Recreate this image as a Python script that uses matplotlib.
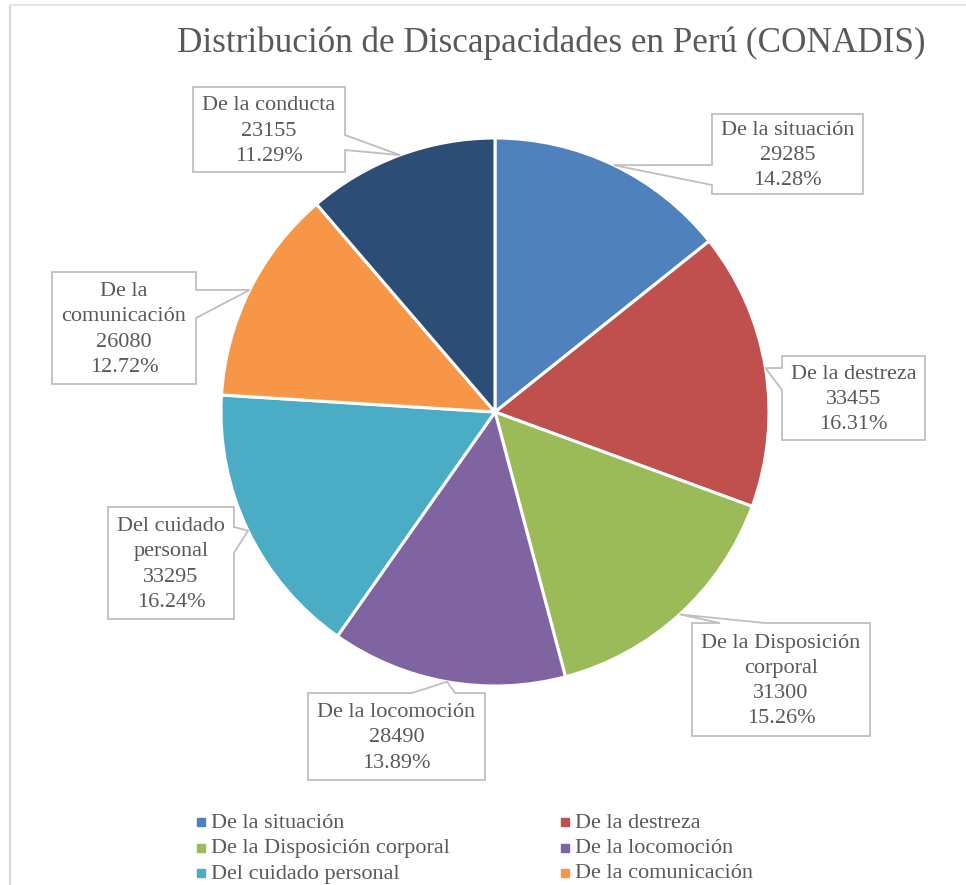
import numpy as np
import matplotlib
matplotlib.use("Agg")
import matplotlib.pyplot as plt
from matplotlib.patches import Polygon

# ---------------- data ----------------
categories = ["De la situación", "De la destreza", "De la Disposición corporal",
              "De la locomoción", "Del cuidado personal", "De la comunicación",
              "De la conducta"]
label_names = ["De la situación", "De la destreza", "De la Disposición\ncorporal",
               "De la locomoción", "Del cuidado\npersonal", "De la\ncomunicación",
               "De la conducta"]
values = [29285, 33455, 31300, 28490, 33295, 26080, 23155]
colors = ["#4F81BD", "#C0504D", "#9BBB59", "#8064A2", "#4BACC6", "#F79646", "#2C4D75"]
title = "Distribución de Discapacidades en Perú (CONADIS)"

# ---------------- layout ----------------
W, H = 966, 885
CX, CY, R = 495, 412, 274
TXT = "#595959"
EDGE = "#BFBFBF"
FONT = "Liberation Serif"

# callout boxes: (x0, y0, x1, y1, side, base0, base1) in pixels
boxes = [
    (712, 114, 863, 194, "left", 165, 185),
    (782, 356, 925, 440, "left", 368, 390),
    (692, 623, 870, 736, "top", 720, 765),
    (308, 693, 485, 780, "top", 412, 455),
    (108, 507, 234, 619, "right", 527, 553),
    (52, 272, 196, 384, "right", 290, 318),
    (193, 87, 345, 172, "right", 135, 150),
]

fig = plt.figure(figsize=(W / 100, H / 100), dpi=100)
fig.patch.set_facecolor("white")

ax = fig.add_axes([(CX - R) / W, 1 - (CY + R) / H, 2 * R / W, 2 * R / H])
ax.pie(values, colors=colors, startangle=90, counterclock=False, radius=1,
       wedgeprops=dict(edgecolor="white", linewidth=2.2))
ax.set_xlim(-1.0, 1.0)
ax.set_ylim(-1.0, 1.0)
ax.set_aspect("equal")
ax.axis("off")

ov = fig.add_axes([0, 0, 1, 1], zorder=3)
ov.set_xlim(0, W)
ov.set_ylim(H, 0)
ov.axis("off")
ov.patch.set_alpha(0)

# chart area border (partially visible)
ov.plot([10, 10], [4.5, H], color="#D9D9D9", lw=1.6, solid_capstyle="butt")
ov.plot([10, W], [4.5, 4.5], color="#DDE3EA", lw=1.2, solid_capstyle="butt")

ov.text((178 + 925) / 2, 52, title, fontsize=25.3, family=FONT, color=TXT,
        ha="center", va="baseline")

total = float(sum(values))
cum = np.cumsum([0] + values)
for i, (name, v) in enumerate(zip(label_names, values)):
    frac_mid = (cum[i] + v / 2) / total
    ang = 2 * np.pi * frac_mid
    tip = (CX + R * np.sin(ang), CY - R * np.cos(ang))
    x0, y0, x1, y1, side, b0, b1 = boxes[i]
    pts = [(x0, y0)]
    if side == "top":
        pts += [(b0, y0), tip, (b1, y0)]
    pts += [(x1, y0)]
    if side == "right":
        pts += [(x1, b0), tip, (x1, b1)]
    pts += [(x1, y1), (x0, y1)]
    if side == "left":
        pts += [(x0, b1), tip, (x0, b0)]
    ov.add_patch(Polygon(pts, closed=True, facecolor="white", edgecolor=EDGE,
                         lw=1.3, joinstyle="miter", zorder=4))
    pct = 100 * v / total
    ov.text((x0 + x1) / 2, (y0 + y1) / 2 + 1.5, f"{name}\n{v}\n{pct:.2f}%",
            fontsize=16, family=FONT, color=TXT, ha="center", va="center",
            linespacing=1.44, zorder=5)

# legend (row-major, 2 columns; last row falls below the canvas)
col_x = [201, 565]
row_y0, row_dy = 822, 25.5
for i, (name, c) in enumerate(zip(categories, colors)):
    r, k = divmod(i, 2)
    y = row_y0 + r * row_dy
    if y > H:
        continue
    ov.plot([col_x[k]], [y], marker="s", markersize=5.2, color=c, lw=0, zorder=5)
    ov.text(col_x[k] + 10, y + 1, name, fontsize=16, family=FONT, color=TXT,
            ha="left", va="center", zorder=5)

fig.savefig("out.png", dpi=100, facecolor="white")
